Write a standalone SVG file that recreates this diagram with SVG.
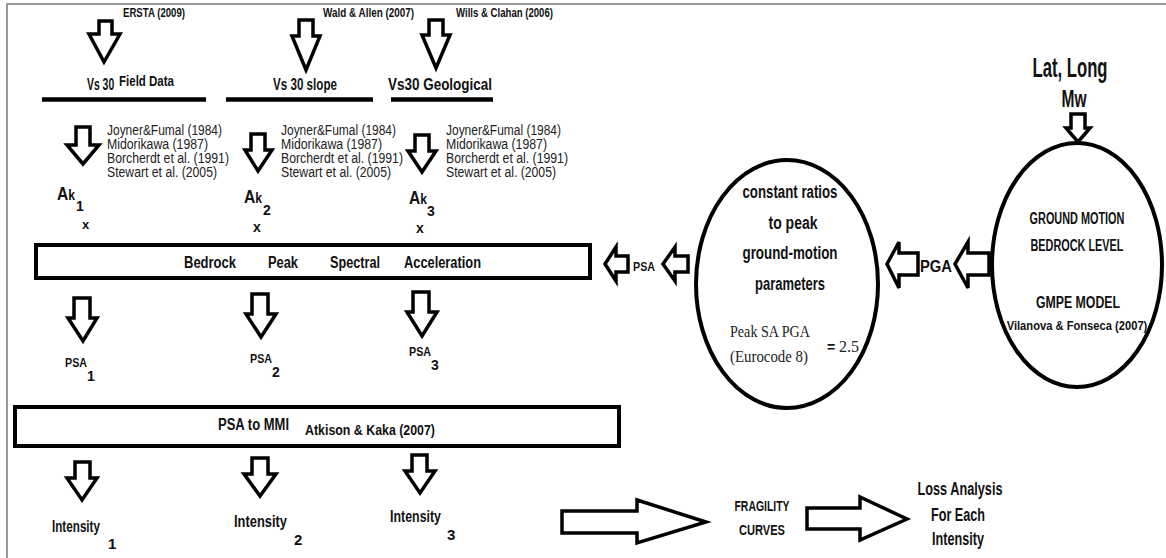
<svg xmlns="http://www.w3.org/2000/svg" width="1166" height="558" viewBox="0 0 1166 558">
<style>
.b{font-family:"Liberation Sans",Arial,sans-serif;font-weight:bold;fill:#111}
.r{font-family:"Liberation Sans",Arial,sans-serif;fill:#222}
.s{font-family:"Liberation Serif","Times New Roman",serif;fill:#222}
.ar{fill:#fff;stroke:#000;stroke-width:3.5;stroke-linejoin:miter}
.bar{stroke:#000;stroke-width:4.5}
.box{fill:#fff;stroke:#000;stroke-width:4}
.ell{fill:#fff;stroke:#000;stroke-width:4}
</style>
<rect width="1166" height="558" fill="#fff"/>
<path d="M7 558V4H1166" fill="none" stroke="#9a9a9a" stroke-width="2"/>

<g id="connectors">
<polygon class="ar" points="99,21 112,21 112,34 120,34 104,62 89,34 99,34"/>
<polygon class="ar" points="299,20 313,20 313,36 320,36 306,70 292,36 299,36"/>
<polygon class="ar" points="429,20 443,20 443,35 450,35 436,68 422,35 429,35"/>
<polygon class="ar" points="76,127 90,127 90,145 99,145 83,164 67,145 76,145"/>
<polygon class="ar" points="251,134 265,134 265,150 272,150 258,171 245,150 251,150"/>
<polygon class="ar" points="415,135 429,135 429,151 436,151 422,172 408,151 415,151"/>
<polygon class="ar" points="74,298 90,298 90,318 97,318 83,341 68,318 74,318"/>
<polygon class="ar" points="252,294 268,294 268,314 276,314 261,337 246,314 252,314"/>
<polygon class="ar" points="413,292 429,292 429,312 437,312 422,336 407,312 413,312"/>
<polygon class="ar" points="75,462 90,462 90,478 97,478 82,500 67,478 75,478"/>
<polygon class="ar" points="252,458 268,458 268,474 276,474 260,496 244,474 252,474"/>
<polygon class="ar" points="412,455 427,455 427,471 435,471 420,493 405,471 412,471"/>
<polygon class="ar" points="1071,114 1085,114 1085,128 1090,128 1078,142 1066,128 1071,128"/>
<polygon class="ar" points="605,264 616,247 616,256 628,256 628,272 616,272 616,281"/>
<polygon class="ar" points="663,264 675,247 675,256 688,256 688,272 675,272 675,281"/>
<polygon class="ar" points="887,264 899,242 899,253 918,253 918,275 899,275 899,288"/>
<polygon class="ar" points="955,264 968,242 968,253 989,253 989,275 968,275 968,288"/>
<polygon class="ar" stroke-width="4" points="562,511 637,511 637,500 706,522 637,543 637,533 562,533"/>
<polygon class="ar" stroke-width="4" points="807,508 860,508 860,497 907,519 860,540 860,529 807,529"/>
</g>

<g id="sources">
<text class="b" x="123" y="17" font-size="13" textLength="62" lengthAdjust="spacingAndGlyphs">ERSTA (2009)</text>
<text class="b" x="323" y="17" font-size="13" textLength="91" lengthAdjust="spacingAndGlyphs">Wald &amp; Allen (2007)</text>
<text class="b" x="456" y="17" font-size="13" textLength="97" lengthAdjust="spacingAndGlyphs">Wills &amp; Clahan (2006)</text>
</g>

<g id="vs30-field">
<text class="b" transform="translate(87 90) scale(0.65 1)" x="0" y="0" font-size="16">Vs 30</text>
<text class="b" x="119" y="86" font-size="15" textLength="55" lengthAdjust="spacingAndGlyphs">Field Data</text>
<line class="bar" x1="42" y1="99.5" x2="206" y2="99.5"/>
</g>
<g id="vs30-slope">
<text class="b" x="273" y="90" font-size="16" textLength="64" lengthAdjust="spacingAndGlyphs">Vs 30 slope</text>
<line class="bar" x1="226" y1="99.5" x2="373" y2="99.5"/>
</g>
<g id="vs30-geo">
<text class="b" x="388" y="90" font-size="17" textLength="104" lengthAdjust="spacingAndGlyphs">Vs30 Geological</text>
<line class="bar" x1="391" y1="99.5" x2="493" y2="99.5"/>
</g>

<g id="refs1" class="r" font-size="14">
<text x="107" y="135" textLength="115" lengthAdjust="spacingAndGlyphs">Joyner&amp;Fumal (1984)</text>
<text x="107" y="149" textLength="101" lengthAdjust="spacingAndGlyphs">Midorikawa (1987)</text>
<text x="107" y="163" textLength="122" lengthAdjust="spacingAndGlyphs">Borcherdt et al. (1991)</text>
<text x="107" y="177" textLength="110" lengthAdjust="spacingAndGlyphs">Stewart et al. (2005)</text>
</g>
<g id="refs2" class="r" font-size="14">
<text x="281" y="135" textLength="115" lengthAdjust="spacingAndGlyphs">Joyner&amp;Fumal (1984)</text>
<text x="281" y="149" textLength="101" lengthAdjust="spacingAndGlyphs">Midorikawa (1987)</text>
<text x="281" y="163" textLength="122" lengthAdjust="spacingAndGlyphs">Borcherdt et al. (1991)</text>
<text x="281" y="177" textLength="110" lengthAdjust="spacingAndGlyphs">Stewart et al. (2005)</text>
</g>
<g id="refs3" class="r" font-size="14">
<text x="446" y="135" textLength="115" lengthAdjust="spacingAndGlyphs">Joyner&amp;Fumal (1984)</text>
<text x="446" y="149" textLength="101" lengthAdjust="spacingAndGlyphs">Midorikawa (1987)</text>
<text x="446" y="163" textLength="122" lengthAdjust="spacingAndGlyphs">Borcherdt et al. (1991)</text>
<text x="446" y="177" textLength="110" lengthAdjust="spacingAndGlyphs">Stewart et al. (2005)</text>
</g>

<g id="ak1">
<text class="b" x="57" y="200" font-size="18" textLength="18" lengthAdjust="spacingAndGlyphs">A<tspan font-size="14">k</tspan></text>
<text class="b" x="76" y="211" font-size="14">1</text>
<text class="b" x="82" y="229" font-size="13">x</text>
</g>
<g id="ak2">
<text class="b" x="244" y="203" font-size="18" textLength="18" lengthAdjust="spacingAndGlyphs">A<tspan font-size="14">k</tspan></text>
<text class="b" x="263" y="215" font-size="14">2</text>
<text class="b" x="253" y="232" font-size="14">x</text>
</g>
<g id="ak3">
<text class="b" x="409" y="204" font-size="18" textLength="18" lengthAdjust="spacingAndGlyphs">A<tspan font-size="14">k</tspan></text>
<text class="b" x="427" y="216" font-size="14">3</text>
<text class="b" x="416" y="233" font-size="14">x</text>
</g>

<g id="bedrock-psa">
<rect class="box" x="36" y="245" width="554" height="33"/>
<text class="b" x="184" y="268" font-size="16" textLength="52" lengthAdjust="spacingAndGlyphs">Bedrock</text>
<text class="b" x="268" y="268" font-size="16" textLength="30" lengthAdjust="spacingAndGlyphs">Peak</text>
<text class="b" x="330" y="268" font-size="16" textLength="50" lengthAdjust="spacingAndGlyphs">Spectral</text>
<text class="b" x="404" y="268" font-size="16" textLength="77" lengthAdjust="spacingAndGlyphs">Acceleration</text>
</g>

<g id="psa1">
<text class="b" x="65" y="367" font-size="13" textLength="22" lengthAdjust="spacingAndGlyphs">PSA</text>
<text class="b" x="87" y="381" font-size="14">1</text>
</g>
<g id="psa2">
<text class="b" x="250" y="363" font-size="13" textLength="22" lengthAdjust="spacingAndGlyphs">PSA</text>
<text class="b" x="272" y="377" font-size="14">2</text>
</g>
<g id="psa3">
<text class="b" x="409" y="356" font-size="13" textLength="22" lengthAdjust="spacingAndGlyphs">PSA</text>
<text class="b" x="431" y="370" font-size="14">3</text>
</g>

<g id="psa-to-mmi">
<rect class="box" x="15" y="407" width="604" height="39"/>
<text class="b" x="218" y="430" font-size="16" textLength="71" lengthAdjust="spacingAndGlyphs">PSA to MMI</text>
<text class="b" x="305" y="435" font-size="14" textLength="130" lengthAdjust="spacingAndGlyphs">Atkison &amp; Kaka (2007)</text>
</g>

<g id="intensity1">
<text class="b" x="52" y="532" font-size="17" textLength="48" lengthAdjust="spacingAndGlyphs">Intensity</text>
<text class="b" x="108" y="549" font-size="15">1</text>
</g>
<g id="intensity2">
<text class="b" x="234" y="527" font-size="17" textLength="53" lengthAdjust="spacingAndGlyphs">Intensity</text>
<text class="b" x="294" y="545" font-size="15">2</text>
</g>
<g id="intensity3">
<text class="b" x="390" y="522" font-size="17" textLength="51" lengthAdjust="spacingAndGlyphs">Intensity</text>
<text class="b" x="447" y="540" font-size="15">3</text>
</g>

<g id="psa-label">
<text class="b" x="633" y="271" font-size="12" textLength="22" lengthAdjust="spacingAndGlyphs">PSA</text>
</g>

<g id="constant-ratios">
<ellipse class="ell" cx="787" cy="284" rx="91" ry="124"/>
<g class="b" font-size="18" text-anchor="middle">
<text x="790" y="198" textLength="95" lengthAdjust="spacingAndGlyphs">constant ratios</text>
<text x="793" y="229" textLength="49" lengthAdjust="spacingAndGlyphs">to peak</text>
<text x="790" y="259" textLength="95" lengthAdjust="spacingAndGlyphs">ground-motion</text>
<text x="790" y="290" textLength="70" lengthAdjust="spacingAndGlyphs">parameters</text>
</g>
<text class="s" x="730" y="337" font-size="17" textLength="80" lengthAdjust="spacingAndGlyphs">Peak SA PGA</text>
<text class="s" x="730" y="362" font-size="17" textLength="78" lengthAdjust="spacingAndGlyphs">(Eurocode 8)</text>
<text class="b" x="827" y="352" font-size="14">=</text>
<text class="s" x="839" y="352" font-size="16">2.5</text>
</g>

<g id="pga-label">
<text class="b" x="920" y="272" font-size="17" textLength="32" lengthAdjust="spacingAndGlyphs">PGA</text>
</g>

<g id="ground-motion">
<ellipse class="ell" cx="1077" cy="265" rx="85" ry="122"/>
<g class="b" text-anchor="middle">
<text transform="translate(1077 224) scale(0.68 1)" x="0" y="0" font-size="16">GROUND MOTION</text>
<text x="1077" y="251" font-size="16" textLength="93" lengthAdjust="spacingAndGlyphs">BEDROCK LEVEL</text>
<text x="1078" y="308" font-size="16" textLength="84" lengthAdjust="spacingAndGlyphs">GMPE MODEL</text>
<text transform="translate(1077 330) scale(0.86 1)" x="0" y="0" font-size="13">Vilanova &amp; Fonseca (2007)</text>
</g>
</g>

<g id="inputs" class="b" text-anchor="middle">
<text x="1070" y="77" font-size="27" textLength="75" lengthAdjust="spacingAndGlyphs">Lat, Long</text>
<text x="1074" y="107" font-size="24" textLength="25" lengthAdjust="spacingAndGlyphs">Mw</text>
</g>

<g id="fragility" class="b" text-anchor="middle">
<text x="762" y="511" font-size="14" textLength="55" lengthAdjust="spacingAndGlyphs">FRAGILITY</text>
<text x="762" y="535" font-size="14" textLength="46" lengthAdjust="spacingAndGlyphs">CURVES</text>
</g>

<g id="loss" class="b" text-anchor="middle">
<text x="960" y="495" font-size="18" textLength="85" lengthAdjust="spacingAndGlyphs">Loss Analysis</text>
<text x="958" y="521" font-size="18" textLength="54" lengthAdjust="spacingAndGlyphs">For Each</text>
<text x="958" y="545" font-size="18" textLength="52" lengthAdjust="spacingAndGlyphs">Intensity</text>
</g>
</svg>
